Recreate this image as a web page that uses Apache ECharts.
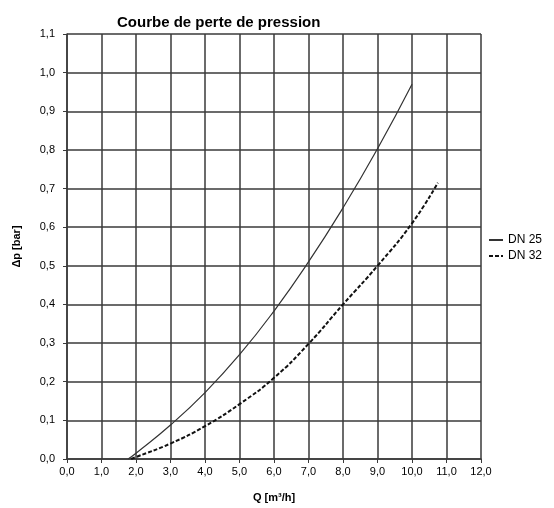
<!DOCTYPE html>
<html><head><meta charset="utf-8">
<script src="https://cdn.jsdelivr.net/npm/echarts@6/dist/echarts.min.js"></script>
<style>html,body{margin:0;padding:0;background:#fff}#c{width:554px;height:508px}</style>
</head><body><div id="c"></div>
<script>
const seriesNames = ['DN 25', 'DN 32'];
const dn25Q  = [1.77, 2.0, 3.0, 4.0, 5.0, 6.0, 7.0, 8.0, 9.0, 10.0];
const dn25dp = [0.0, 0.015, 0.088, 0.172, 0.27, 0.383, 0.51, 0.65, 0.803, 0.97];
const dn32Q  = [1.86, 2.0, 3.0, 4.0, 5.0, 6.0, 7.0, 8.0, 9.0, 10.0, 10.75];
const dn32dp = [0.0, 0.005, 0.04, 0.085, 0.142, 0.21, 0.298, 0.4, 0.5, 0.61, 0.715];
const titleText = 'Courbe de perte de pression';
const xName = 'Q [m³/h]';
const yName = 'Δp [bar]';

const fmt = v => v.toFixed(1).replace('.', ',');
const gridLine = { show: true, lineStyle: { color: '#3a3a3a', width: 1.5 } };
const font = 'Liberation Sans, Arial, sans-serif';

const chart = echarts.init(document.getElementById('c'));
chart.setOption({
  animation: false,
  backgroundColor: '#fff',
  title: {
    text: titleText, left: 112, top: 10,
    textStyle: { fontFamily: font, fontSize: 15, fontWeight: 'bold', color: '#000' }
  },
  legend: {
    orient: 'vertical', left: 488, top: 234, padding: 0,
    itemWidth: 14, itemHeight: 10, itemGap: 4,
    itemStyle: { color: 'rgba(0,0,0,0)', borderWidth: 0, opacity: 0 },
    textStyle: { fontFamily: font, fontSize: 12, color: '#000' },
    data: seriesNames
  },
  grid: { left: 67, top: 34, width: 414, height: 429, containLabel: false },
  xAxis: {
    type: 'value', min: 0, max: 12, interval: 1,
    name: xName, nameLocation: 'middle', nameGap: 33,
    nameTextStyle: { fontFamily: font, fontSize: 11, fontWeight: 'bold', color: '#000' },
    axisLine: { lineStyle: { color: '#3a3a3a', width: 1.5 } },
    axisTick: { show: true, length: 4, lineStyle: { color: '#3a3a3a' } },
    axisLabel: { formatter: fmt, fontFamily: font, fontSize: 11, color: '#000', margin: 7 },
    splitLine: gridLine
  },
  yAxis: {
    type: 'value', min: 0, max: 1.1, interval: 0.1,
    name: yName, nameLocation: 'middle', nameGap: 45, nameRotate: 90,
    nameTextStyle: { fontFamily: font, fontSize: 11, fontWeight: 'bold', color: '#000' },
    axisLine: { show: true, lineStyle: { color: '#3a3a3a', width: 1.5 } },
    axisTick: { show: true, length: 4, lineStyle: { color: '#3a3a3a' } },
    axisLabel: { formatter: fmt, fontFamily: font, fontSize: 11, color: '#000', margin: 12 },
    splitLine: gridLine
  },
  series: [
    {
      name: seriesNames[0], type: 'line', smooth: true, symbol: 'none',
      lineStyle: { color: '#333', width: 1.2, type: 'solid' },
      itemStyle: { color: '#333' },
      data: dn25Q.map((q, i) => [q, dn25dp[i]])
    },
    {
      name: seriesNames[1], type: 'line', smooth: true, symbol: 'none',
      lineStyle: { color: '#111', width: 2, type: [4, 2] },
      itemStyle: { color: '#111' },
      data: dn32Q.map((q, i) => [q, dn32dp[i]])
    }
  ]
});
</script></body></html>
